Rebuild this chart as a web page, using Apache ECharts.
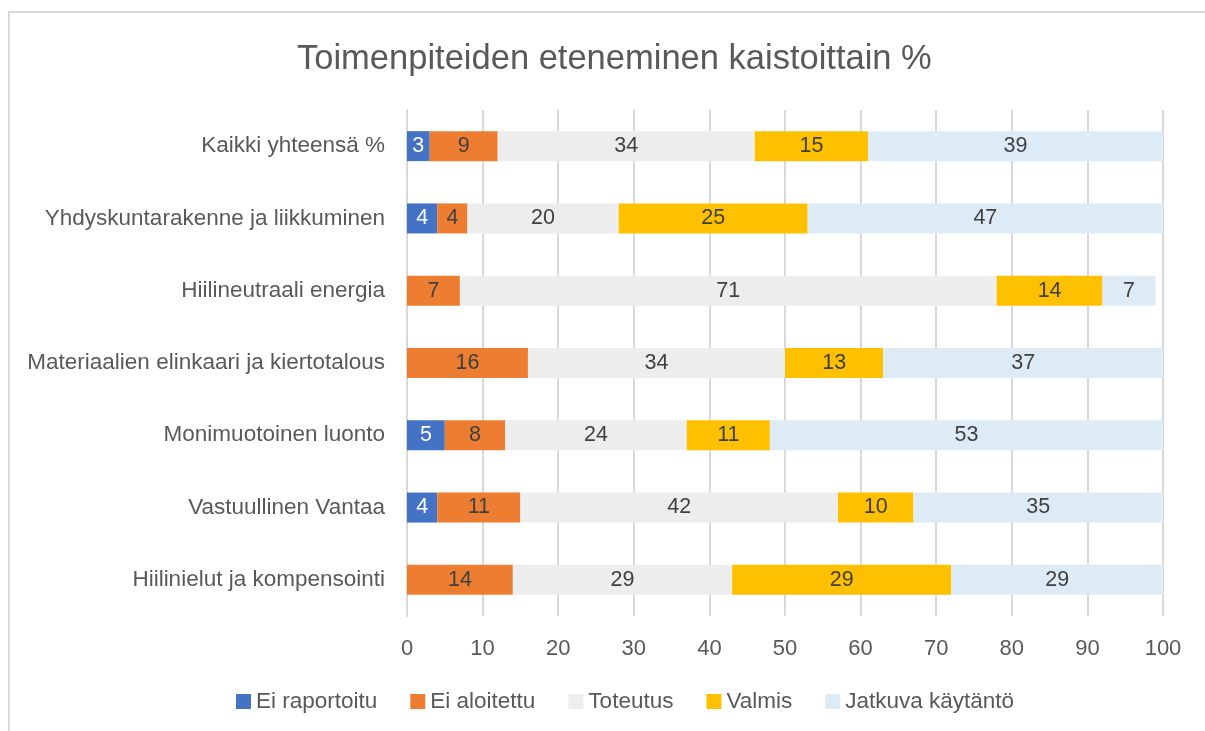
<!DOCTYPE html>
<html>
<head>
<meta charset="utf-8">
<script src="https://cdn.jsdelivr.net/npm/echarts@6/dist/echarts.min.js"></script>
<style>
html,body{margin:0;padding:0;background:#fff;overflow:hidden;}
#frame{position:absolute;left:8px;top:11px;width:1300px;height:800px;border:2px solid #D9D9D9;box-sizing:border-box;}
#chart{position:absolute;left:0;top:0;width:1205px;height:731px;}
</style>
</head>
<body>
<div id="frame"></div>
<div id="chart"></div>
<script>
const categories = [
  "Kaikki yhteensä %",
  "Yhdyskuntarakenne ja liikkuminen",
  "Hiilineutraali energia",
  "Materiaalien elinkaari ja kiertotalous",
  "Monimuotoinen luonto",
  "Vastuullinen Vantaa",
  "Hiilinielut ja kompensointi"
];
const seriesNames = ["Ei raportoitu", "Ei aloitettu", "Toteutus", "Valmis", "Jatkuva käytäntö"];
const eiRaportoitu = [3, 4, 0, 0, 5, 4, 0];
const eiAloitettu = [9, 4, 7, 16, 8, 11, 14];
const toteutus = [34, 20, 71, 34, 24, 42, 29];
const valmis = [15, 25, 14, 13, 11, 10, 29];
const jatkuva = [39, 47, 7, 37, 53, 35, 29];
const xTicks = [0, 10, 20, 30, 40, 50, 60, 70, 80, 90, 100];

const colors = ["#4472C4", "#ED7D31", "#EDEDED", "#FFC000", "#DDEBF7"];
const labelColors = ["#FFFFFF", "#404040", "#404040", "#404040", "#404040"];
const values = [eiRaportoitu, eiAloitettu, toteutus, valmis, jatkuva];
const FONT = "'Liberation Sans', 'DejaVu Sans', sans-serif";

const chart = echarts.init(document.getElementById('chart'), null, {renderer: 'canvas'});
chart.setOption({
  animation: false,
  backgroundColor: 'transparent',
  textStyle: {fontFamily: FONT},
  title: {
    text: "Toimenpiteiden eteneminen kaistoittain %",
    left: 292,
    top: 37,
    textStyle: {fontFamily: FONT, fontSize: 34.5, fontWeight: 'normal', color: '#595959'}
  },
  legend: {
    data: seriesNames,
    top: 685,
    left: 231,
    itemWidth: 15,
    itemHeight: 15,
    itemGap: 33,
    icon: 'rect',
    textStyle: {fontFamily: FONT, fontSize: 22.5, color: '#595959'}
  },
  grid: {left: 407, right: 42, top: 110, bottom: 115, containLabel: false},
  xAxis: {
    type: 'value',
    min: xTicks[0],
    max: xTicks[xTicks.length - 1],
    interval: 10,
    axisLine: {show: false},
    axisTick: {show: false},
    splitLine: {show: true, lineStyle: {color: '#D9D9D9', width: 2}},
    axisLabel: {fontFamily: FONT, fontSize: 22, color: '#595959', margin: 22}
  },
  yAxis: {
    type: 'category',
    data: categories,
    inverse: true,
    axisLine: {show: true, lineStyle: {color: '#D9D9D9', width: 2}},
    axisTick: {show: false},
    axisLabel: {fontFamily: FONT, fontSize: 22.5, color: '#595959', margin: 22}
  },
  series: seriesNames.map((name, i) => ({
    name: name,
    type: 'bar',
    stack: 'total',
    barWidth: 30,
    clip: true,
    itemStyle: {color: colors[i]},
    label: {
      show: true,
      position: 'inside',
      fontFamily: FONT,
      fontSize: 21.5,
      color: labelColors[i],
      formatter: p => (p.value ? String(p.value) : '')
    },
    data: values[i]
  }))
});
</script>
</body>
</html>
